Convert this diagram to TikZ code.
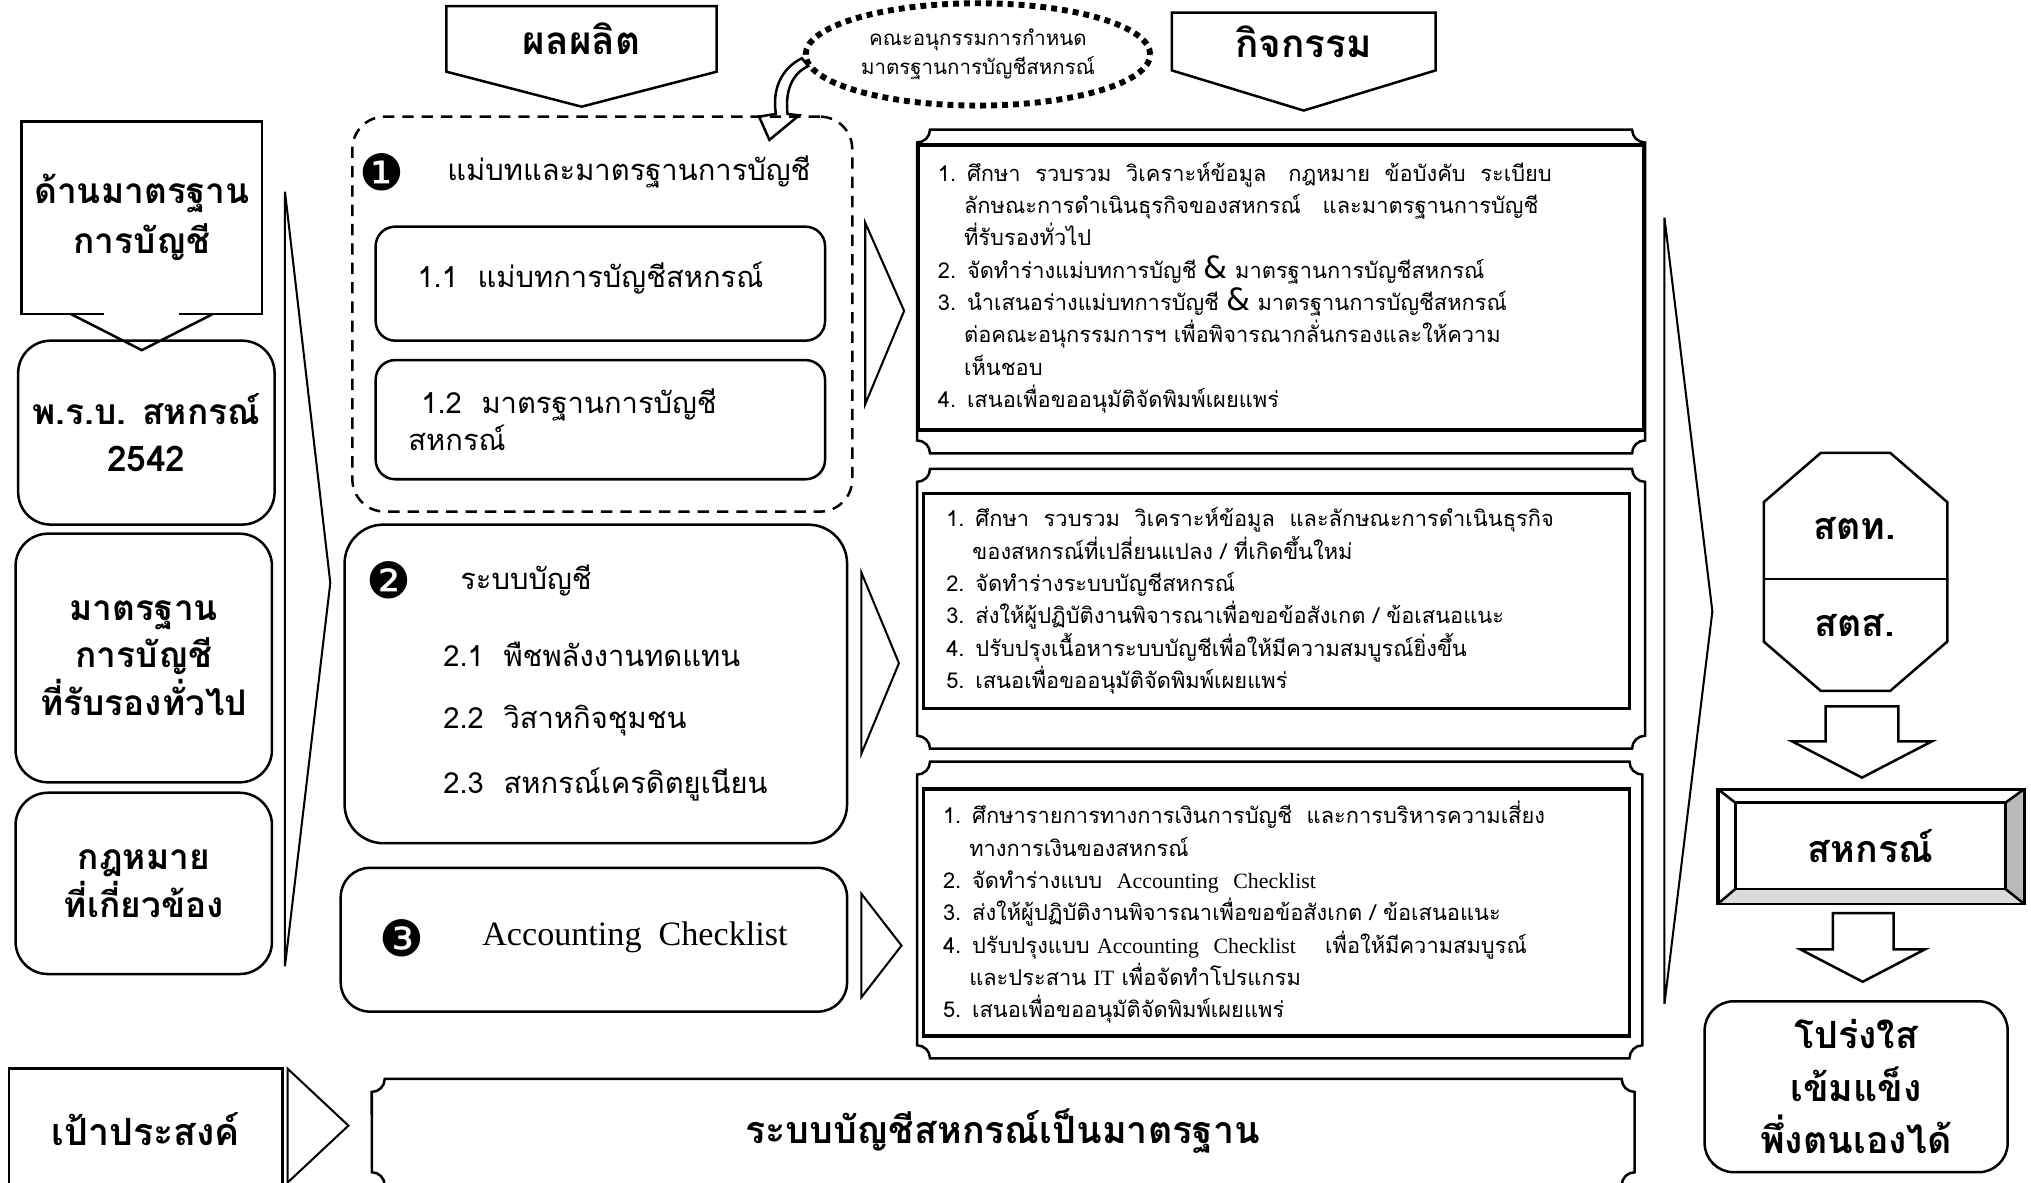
\documentclass[tikz,border=0pt]{standalone}
\usepackage{fontspec}
\setmainfont{Loma}[Script=Thai]
\newfontfamily\dingfont{DejaVu Sans}
\newfontfamily\enserif{Liberation Serif}
\usetikzlibrary{shapes.geometric, positioning, calc}

% frame with concave corners: x1, y1 (top), x2, y2 (bottom)
\newcommand{\plaque}[4]{%
  \draw[frame] (#1+10,#2) -- (#3-10,#2) arc[start angle=180, end angle=270, radius=0.2cm]
    -- (#3,#4+10) arc[start angle=90, end angle=180, radius=0.2cm]
    -- (#1+10,#4) arc[start angle=0, end angle=90, radius=0.2cm]
    -- (#1,#2-10) arc[start angle=270, end angle=360, radius=0.2cm] -- cycle;}
\newcommand{\amp}{{\dingfont\fontsize{13.5}{13.5}\selectfont\&}}
\newcommand{\ind}{\hspace*{1.2em}}

\begin{document}
\begin{tikzpicture}[x=0.02cm, y=0.02cm,
    frame/.style={line width=1.1pt},
    chev/.style={line width=0.9pt},
    head/.style={font=\bfseries\fontsize{17}{20}\selectfont, inner sep=0pt},
    side/.style={draw, frame, rounded corners=0.5cm, align=center, inner sep=0pt,
      font=\bfseries\fontsize{15.5}{21}\selectfont},
    sub/.style={draw, frame, rounded corners=0.3cm, inner sep=0pt},
    item/.style={anchor=west, inner sep=0pt, align=left, font=\fontsize{12.8}{16}\selectfont},
    num/.style={inner sep=0pt, font=\dingfont\fontsize{22}{22}\selectfont},
    task/.style={draw, line width=1.6pt, align=left, inner xsep=0.3cm, inner ysep=0pt,
      font=\fontsize{9.6}{14.2}\selectfont},
    big/.style={inner sep=0pt, align=center, font=\bfseries\fontsize{16.5}{23}\selectfont}]

    \useasboundingbox (0,0) rectangle (1568,-913);
    \clip (0,0) rectangle (1568,-913);

    % top headers
    \node[head, minimum width=4.16cm, minimum height=1cm] (Out) at (449,-30) {ผลผลิต};
    \draw[frame] (Out.north west) -- (Out.north east) -- (Out.south east)
        -- ($(Out.south)+(0,-27)$) -- (Out.south west) -- cycle;
    \node[head, minimum width=4.06cm, minimum height=0.88cm] (Act) at (1006.5,-32) {กิจกรรม};
    \draw[frame] (Act.north west) -- (Act.north east) -- (Act.south east)
        -- ($(Act.south)+(0,-31)$) -- (Act.south west) -- cycle;
    \node[ellipse, draw, line width=2.6pt, dash pattern=on 2.6pt off 2.2pt, inner sep=0pt,
        minimum width=5.32cm, minimum height=1.58cm, align=center,
        font=\fontsize{9}{12.5}\selectfont] (El) at (755,-42)
        {คณะอนุกรรมการกำหนด\\มาตรฐานการบัญชีสหกรณ์};
    \draw[frame, fill=white] (619,-45) .. controls (603,-53) and (596,-69) .. (599,-88)
        -- (586,-90) -- (594,-108) -- (617,-89) -- (608,-88)
        .. controls (606,-71) and (611,-57) .. (624,-51) -- cycle;

    % left column
    \node[inner sep=0pt, minimum width=3.7cm, minimum height=2.96cm, align=center,
        font=\bfseries\fontsize{15.5}{22}\selectfont] (L0) at (109.5,-168) {ด้านมาตรฐาน\\การบัญชี};
    \draw[frame] ($(L0.south)+(-29,0)$) -- (L0.south west) -- (L0.north west)
        -- (L0.north east) -- (L0.south east) -- ($(L0.south)+(29,0)$);
    \draw[frame] ($(L0.south)+(-55,0)$) -- ($(L0.south)+(0,-28)$) -- ($(L0.south)+(55,0)$);
    \node[side, minimum width=3.96cm, minimum height=2.84cm] (L1) at (113,-334) {พ.ร.บ. สหกรณ์\\2542};
    \node[side, minimum width=3.96cm, minimum height=3.84cm] (L2) at (111,-508) {มาตรฐาน\\การบัญชี\\ที่รับรองทั่วไป};
    \node[side, minimum width=3.96cm, minimum height=2.8cm] (L3) at (111,-682) {กฎหมาย\\ที่เกี่ยวข้อง};
    \draw[chev] (220,-148) -- (255,-450) -- (220,-746) -- cycle;

    % products
    \node[draw, frame, dash pattern=on 5pt off 3.5pt, rounded corners=0.5cm,
        minimum width=7.72cm, minimum height=6.1cm] (G1) at (465,-242.5) {};
    \node[num] (N1) at (295,-133) {❶};
    \node[item] (T1) at (345,-133) {แม่บทและมาตรฐานการบัญชี};
    \node[sub, minimum width=6.94cm, minimum height=1.76cm] (P11) at (463.5,-219) {};
    \node[item] (T11) at (322,-215) {1.1~~แม่บทการบัญชีสหกรณ์};
    \node[sub, minimum width=6.94cm, minimum height=1.84cm] (P12) at (463.5,-324) {};
    \node[item] (T12) at (315,-324) {\hspace*{0.2cm}1.2~~มาตรฐานการบัญชี\\สหกรณ์};

    \node[draw, frame, rounded corners=0.6cm, minimum width=7.76cm, minimum height=4.92cm] (P2) at (460,-528) {};
    \node[num] (N2) at (300,-448) {❷};
    \node[item] (T2) at (355,-448) {ระบบบัญชี};
    \node[item] (T21) at (342,-505) {2.1~~พืชพลังงานทดแทน};
    \node[item] (T22) at (342,-556) {2.2~~วิสาหกิจชุมชน};
    \node[item] (T23) at (342,-606) {2.3~~สหกรณ์เครดิตยูเนียน};

    \node[draw, frame, rounded corners=0.45cm, minimum width=7.82cm, minimum height=2.22cm] (P3) at (458.5,-725.5) {};
    \node[num] (N3) at (310,-724) {❸};
    \node[item, font=\enserif\fontsize{15}{17}\selectfont] (T3) at (372,-724) {Accounting~~Checklist};

    \draw[chev] (668,-172) -- (698,-240) -- (668,-312) -- cycle;
    \draw[chev] (665,-442) -- (694,-512) -- (665,-582) -- cycle;
    \draw[chev] (665,-690) -- (696,-730) -- (665,-770) -- cycle;

    % activities
    \plaque{708}{-100}{1270}{-350}
    \node[task, minimum width=11.2cm, minimum height=4.4cm, text width=10.6cm] (A1) at (989,-222) {%
        1. ศึกษา~ รวบรวม~ วิเคราะห์ข้อมูล~~ กฎหมาย~ ข้อบังคับ~ ระเบียบ\\
        \ind ลักษณะการดำเนินธุรกิจของสหกรณ์~~ และมาตรฐานการบัญชี\\
        \ind ที่รับรองทั่วไป\\
        2. จัดทำร่างแม่บทการบัญชี \amp{} มาตรฐานการบัญชีสหกรณ์\\
        3. นำเสนอร่างแม่บทการบัญชี \amp{} มาตรฐานการบัญชีสหกรณ์\\
        \ind ต่อคณะอนุกรรมการฯ เพื่อพิจารณากลั่นกรองและให้ความ\\
        \ind เห็นชอบ\\
        4. เสนอเพื่อขออนุมัติจัดพิมพ์เผยแพร่};
    \plaque{708}{-362}{1270}{-578}
    \node[task, minimum width=10.9cm, minimum height=3.32cm, text width=10.2cm] (A2) at (985.5,-464) {%
        1. ศึกษา~ รวบรวม~ วิเคราะห์ข้อมูล~ และลักษณะการดำเนินธุรกิจ\\
        \ind ของสหกรณ์ที่เปลี่ยนแปลง / ที่เกิดขึ้นใหม่\\
        2. จัดทำร่างระบบบัญชีสหกรณ์\\
        3. ส่งให้ผู้ปฏิบัติงานพิจารณาเพื่อขอข้อสังเกต / ข้อเสนอแนะ\\
        4. ปรับปรุงเนื้อหาระบบบัญชีเพื่อให้มีความสมบูรณ์ยิ่งขึ้น\\
        5. เสนอเพื่อขออนุมัติจัดพิมพ์เผยแพร่};
    \plaque{708}{-588}{1268}{-817}
    \node[task, minimum width=10.9cm, minimum height=3.82cm, text width=10.3cm] (A3) at (985.5,-704.5) {%
        1. ศึกษารายการทางการเงินการบัญชี~ และการบริหารความเสี่ยง\\
        \ind ทางการเงินของสหกรณ์\\
        2. จัดทำร่างแบบ~ {\enserif Accounting~ Checklist}\\
        3. ส่งให้ผู้ปฏิบัติงานพิจารณาเพื่อขอข้อสังเกต / ข้อเสนอแนะ\\
        4. ปรับปรุงแบบ {\enserif Accounting~ Checklist}~~~ เพื่อให้มีความสมบูรณ์\\
        \ind และประสาน {\enserif IT} เพื่อจัดทำโปรแกรม\\
        5. เสนอเพื่อขออนุมัติจัดพิมพ์เผยแพร่};

    \draw[chev] (1285,-168) -- (1322,-472) -- (1285,-775) -- cycle;

    % right column
    \node[minimum width=2.82cm, minimum height=3.66cm, inner sep=0pt] (Oct) at (1432.5,-441.5) {};
    \draw[frame] ([xshift=0.88cm]Oct.north west) -- ([xshift=-0.88cm]Oct.north east)
        -- ([yshift=-0.76cm]Oct.north east) -- ([yshift=0.76cm]Oct.south east)
        -- ([xshift=-0.88cm]Oct.south east) -- ([xshift=0.88cm]Oct.south west)
        -- ([yshift=0.76cm]Oct.south west) -- ([yshift=-0.76cm]Oct.north west) -- cycle;
    \draw[frame] ([yshift=-0.11cm]Oct.west) -- ([yshift=-0.11cm]Oct.east);
    \node[big] (S1) at (1432,-408) {สตท.};
    \node[big] (S2) at (1432,-483) {สตส.};
    \draw[frame] ($(Oct.south)+(-23,-12)$) -- ++(0,-27) -- ++(-26,0) -- ++(54,-28)
        -- ++(54,28) -- ++(-26,0) -- ++(0,27) -- cycle;

    \node[draw, frame, minimum width=4.7cm, minimum height=1.74cm, inner sep=0pt] (Sk) at (1444.5,-653.5) {};
    \node[minimum width=4.16cm, minimum height=1.32cm, inner sep=0pt] (SkIn) at (1444,-653) {};
    \fill[gray!55] (SkIn.north east) -- (Sk.north east) -- (Sk.south east) -- (SkIn.south east) -- cycle;
    \fill[gray!28] (SkIn.south west) -- (SkIn.south east) -- (Sk.south east) -- (Sk.south west) -- cycle;
    \draw[frame] (Sk.north west) -- (SkIn.north west) (Sk.north east) -- (SkIn.north east)
        (Sk.south west) -- (SkIn.south west) (Sk.south east) -- (SkIn.south east);
    \draw[frame] (Sk.south west) rectangle (Sk.north east);
    \draw[frame] (SkIn.south west) rectangle (SkIn.north east);
    \node[big] (SkT) at (SkIn) {สหกรณ์};
    \draw[frame] ($(Sk.south)+(-29.5,-7)$) -- ++(0,-28) -- ++(-25,0) -- ++(48,-25)
        -- ++(48,25) -- ++(-24,0) -- ++(0,28) -- cycle;

    \node[side, rounded corners=0.45cm, minimum width=4.68cm, minimum height=2.64cm,
        font=\bfseries\fontsize{16.5}{23}\selectfont] (Res) at (1433,-839) {โปร่งใส\\เข้มแข็ง\\พึ่งตนเองได้};

    % bottom row
    \node[draw, frame, minimum width=4.22cm, minimum height=1.86cm, inner sep=0pt,
        font=\bfseries\fontsize{16.5}{20}\selectfont] (Obj) at (112.5,-871.5) {เป้าประสงค์};
    \draw[chev] (222,-825) -- (269,-869) -- (222,-913) -- cycle;
    \plaque{287}{-833}{1262}{-915}
    \node[big] (Goal) at (774,-873) {ระบบบัญชีสหกรณ์เป็นมาตรฐาน};

\end{tikzpicture}
\end{document}
